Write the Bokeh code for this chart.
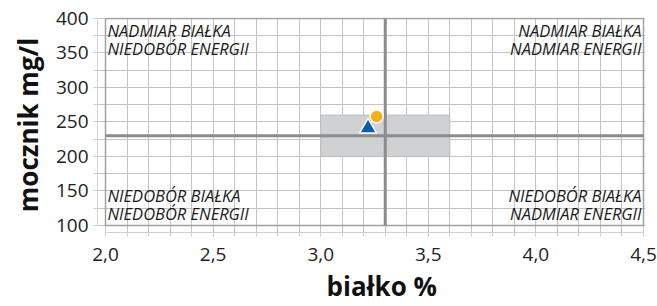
import numpy as np
from bokeh.plotting import figure
from bokeh.models import FixedTicker, CustomJSTickFormatter, Title
from bokeh.core.properties import value
from bokeh.embed import file_html
from bokeh.resources import INLINE

# ---- data ----
x_ticks = [2.0, 2.5, 3.0, 3.5, 4.0, 4.5]
y_ticks = [100, 150, 200, 250, 300, 350, 400]
x_minor = [2.0, 2.1, 2.2, 2.3, 2.4, 2.5, 2.6, 2.7, 2.8, 2.9, 3.0, 3.1, 3.2, 3.3, 3.4,
           3.5, 3.6, 3.7, 3.8, 3.9, 4.0, 4.1, 4.2, 4.3, 4.4, 4.5]
y_minor = [100, 125, 150, 175, 200, 225, 250, 275, 300, 325, 350, 375, 400]
x_min, x_max = 2.0, 4.5
y_min, y_max = 100, 400

ref_box_x = [3.0, 3.6]
ref_box_y = [200, 260]
ref_x = 3.3
ref_y = 230

tri_x = [3.22]
tri_y = [241]
dot_x = [3.26]
dot_y = [258]

x_title = "białko %"
y_title = "mocznik mg/l"
quad_lines_left_top = ["NADMIAR BIAŁKA", "NIEDOBÓR ENERGII"]
quad_lines_right_top = ["NADMIAR BIAŁKA", "NADMIAR ENERGII"]
quad_lines_left_bot = ["NIEDOBÓR BIAŁKA", "NIEDOBÓR ENERGII"]
quad_lines_right_bot = ["NIEDOBÓR BIAŁKA", "NADMIAR ENERGII"]

FONT = "Open Sans"
px_x = 538 / (x_max - x_min)
px_y = 206 / (y_max - y_min)

p = figure(width=657, height=306, output_backend="svg", toolbar_location=None,
           x_range=(x_min - 8 / px_x, x_max + 2 / px_x),
           y_range=(y_min - 7 / px_y, y_max + 1 / px_y),
           min_border_left=97, min_border_right=12, min_border_top=17, min_border_bottom=0)
p.outline_line_color = None
p.background_fill_color = "white"
p.border_fill_color = "white"

# grids
p.xgrid.ticker = FixedTicker(ticks=x_minor)
p.ygrid.ticker = FixedTicker(ticks=y_minor)
for g in (p.xgrid[0], p.ygrid[0]):
    g.grid_line_color = "#c4c4c4"
    g.grid_line_width = 1
p.xgrid[0].bounds = (y_min, y_max)
p.ygrid[0].bounds = (x_min, x_max)

# axes
fmt = CustomJSTickFormatter(code="return tick.toFixed(1).replace('.', ',');")
p.xaxis.ticker = FixedTicker(ticks=x_ticks, minor_ticks=x_minor)
p.yaxis.ticker = FixedTicker(ticks=y_ticks, minor_ticks=y_minor)
p.xaxis.formatter = fmt
p.xaxis.bounds = (x_min, x_max)
p.yaxis.bounds = (y_min, y_max)
for ax in (p.xaxis[0], p.yaxis[0]):
    ax.axis_line_color = "#d0d0d0"
    ax.major_tick_line_color = "#d0d0d0"
    ax.minor_tick_line_color = "#d0d0d0"
    ax.major_tick_out = 4
    ax.major_tick_in = 0
    ax.minor_tick_out = 4
    ax.minor_tick_in = 0
    ax.major_label_text_font = FONT
    ax.major_label_text_font_size = "19px"
    ax.major_label_text_color = "#222222"
    ax.axis_label_text_font = FONT
    ax.axis_label_text_font_size = "26px"
    ax.axis_label_text_font_style = "bold"
    ax.axis_label_text_color = "#111111"
p.xaxis.major_label_standoff = 11
p.yaxis.major_label_standoff = 5
p.yaxis.axis_label = y_title
p.yaxis.axis_label_standoff = 7

# x title (left edge placed as in the original, slightly right of centre)
p.add_layout(Title(text=x_title, align="left", offset=229, vertical_align="bottom",
                   standoff=5, text_font=FONT, text_font_size="26px",
                   text_font_style="bold", text_color="#111111"), "below")

# reference box
p.quad(left=[ref_box_x[0]], right=[ref_box_x[1]], bottom=[ref_box_y[0]], top=[ref_box_y[1]],
       fill_color="#d0d1d3", line_color="#bdbdbd", line_width=1)

# plot-area frame
p.quad(left=[x_min], right=[x_max], bottom=[y_min], top=[y_max],
       fill_color=None, line_color="#a0a0a0", line_width=1.5)

# reference lines
p.segment(x0=[ref_x, x_min], y0=[y_min, ref_y], x1=[ref_x, x_max], y1=[y_max, ref_y],
          line_color="#8c8c8c", line_width=3)

# markers
p.scatter(tri_x, tri_y, marker="triangle", size=17, fill_color="#0a5da8",
          line_color="white", line_width=1.5)
p.scatter(dot_x, dot_y, marker="circle", size=13, fill_color="#f5b11c",
          line_color="white", line_width=1.5)

# quadrant labels
def qlabels(lines, x, y, align, baseline, xoff, yoffs):
    for line, yo in zip(lines, yoffs):
        p.text(x=[x], y=[y], text=[line], text_align=align, text_baseline=baseline,
               x_offset=xoff, y_offset=yo, text_font=value(FONT), text_font_size="16.5px",
               text_font_style="italic", text_color="#1a1a1a")

qlabels(quad_lines_left_top, x_min, y_max, "left", "top", 2, [0, 18])
qlabels(quad_lines_right_top, x_max, y_max, "right", "top", -2, [0, 18])
qlabels(quad_lines_left_bot, x_min, y_min, "left", "bottom", 2, [-18, 0])
qlabels(quad_lines_right_bot, x_max, y_min, "right", "bottom", -2, [-18, 0])

open("out.html", "w").write(file_html(p, INLINE))
